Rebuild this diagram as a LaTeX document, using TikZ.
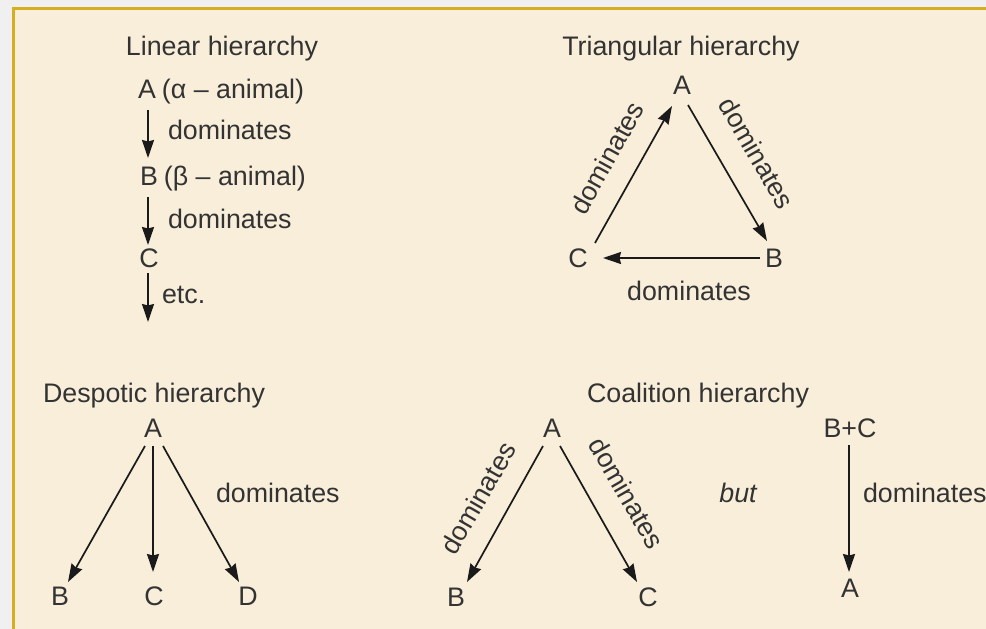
\documentclass[tikz,border=0pt]{standalone}
\usepackage{fontspec}
\setmainfont{Liberation Sans}
\usetikzlibrary{arrows.meta,calc}
\definecolor{bgbeige}{HTML}{F8EEDA}
\definecolor{outgray}{HTML}{F0F0F0}
\definecolor{goldline}{HTML}{D6AE22}
\definecolor{inkgray}{HTML}{333333}
\definecolor{arrowink}{HTML}{1A1A1A}
\begin{document}
\begin{tikzpicture}[x=1pt,y=-1pt,
  txt/.style={inner sep=0pt,outer sep=0pt,text=inkgray,font=\fontsize{26.8}{30}\selectfont},
  lbl/.style={txt,anchor=base},
  lblw/.style={txt,anchor=base west},
  arr/.style={draw=arrowink,line width=1.7pt,-{Stealth[length=18pt,width=12pt,inset=1.5pt]}}]
\useasboundingbox (0,0) rectangle (986,629);
\fill[outgray] (0,0) rectangle (986,629);
\filldraw[fill=bgbeige,draw=goldline,line width=2.5pt] (13.5,8.5) rectangle (1000,640);

% Linear hierarchy
\node[lbl] (ltitle) at (222,55) {Linear hierarchy};
\node[lbl] (lA) at (147,98) {A};
\node[lblw] (lAtxt) at ([xshift=6pt]lA.base east) {(α – animal)};
\node[lbl] (lB) at (149,185) {B};
\node[lblw] (lBtxt) at ([xshift=6pt]lB.base east) {(β – animal)};
\node[lbl] (lC) at (149,267) {C};
\node[lblw] (ld1) at (168,139) {dominates};
\node[lblw] (ld2) at (168,228) {dominates};
\node[lblw] (letc) at (162,303) {etc.};
\coordinate (lend) at (148,322);
\draw[arr] ($(lA.base)+(1,12)$) -- ($(lB.base)+(-1,-27)$);
\draw[arr] ($(lB.base)+(-1,12)$) -- ($(lC.base)+(-1,-22)$);
\draw[arr] ($(lC.base)+(-1,6)$) -- (lend);

% Triangular hierarchy
\node[lbl] (ttitle) at (681,55) {Triangular hierarchy};
\node[lbl] (tA) at (682,94) {A};
\node[lbl] (tB) at (774,267) {B};
\node[lbl] (tC) at (578,267) {C};
\draw[arr] ($(tC.base)+(17,-24)$) -- ($(tA.base)+(-10,12)$);
\draw[arr] ($(tA.base)+(6,11)$) -- ($(tB.base)+(-7,-26)$);
\draw[arr] ($(tB.base)+(-14,-9)$) -- ($(tC.base)+(25,-9)$);
\node[txt,rotate=61] (tdl) at (607,158) {dominates};
\node[txt,rotate=-60] (tdr) at (757,153) {dominates};
\node[lbl] (tdb) at (689,300) {dominates};

% Despotic hierarchy
\node[lbl] (dtitle) at (154,402) {Despotic hierarchy};
\node[lbl] (dA) at (153,437) {A};
\node[lbl] (dB) at (60,605) {B};
\node[lbl] (dC) at (154,605) {C};
\node[lbl] (dD) at (248,605) {D};
\draw[arr] ($(dA.base)+(-8,9)$) -- ($(dB.base)+(8,-23)$);
\draw[arr] ($(dA.base)+(0,9)$) -- ($(dC.base)+(-1,-33)$);
\draw[arr] ($(dA.base)+(10,9)$) -- ($(dD.base)+(-9,-23)$);
\node[lblw] (dd) at (216,502) {dominates};

% Coalition hierarchy
\node[lbl] (ctitle) at (698,402) {Coalition hierarchy};
\node[lbl] (cA) at (552,437) {A};
\node[lbl] (cB) at (456,606) {B};
\node[lbl] (cC) at (648,606) {C};
\draw[arr] ($(cA.base)+(-9,9)$) -- ($(cB.base)+(11,-24)$);
\draw[arr] ($(cA.base)+(8,9)$) -- ($(cC.base)+(-11,-24)$);
\node[txt,rotate=60] (cdl) at (478,498) {dominates};
\node[txt,rotate=-60] (cdr) at (627,493) {dominates};
\node[lbl,font=\fontsize{26.8}{30}\selectfont\itshape] (cbut) at (738,502) {but};
\node[lbl] (cBC) at (850,437) {B+C};
\node[lbl] (cA2) at (850,597) {A};
\draw[arr] ($(cBC.base)+(-1,8)$) -- ($(cA2.base)+(-1,-25)$);
\node[lblw] (cd) at (863,502) {dominates};
\end{tikzpicture}
\end{document}
